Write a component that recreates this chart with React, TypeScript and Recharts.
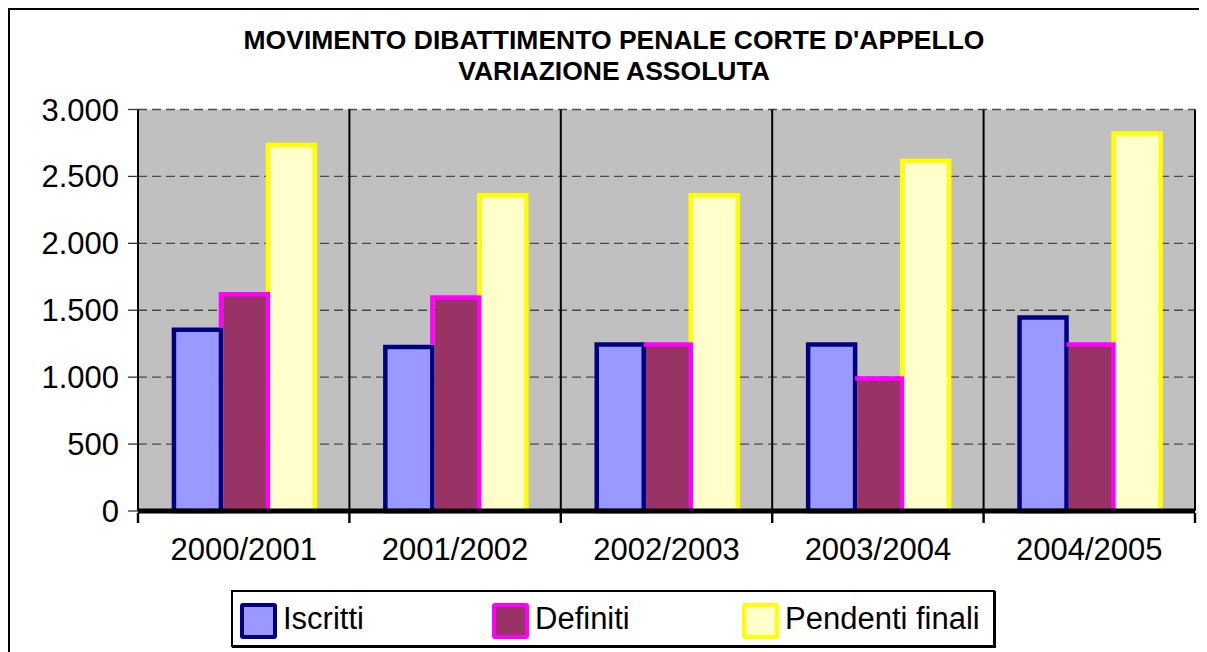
import React from 'react';
import { BarChart, Bar, XAxis, YAxis, CartesianGrid, Legend } from 'recharts';

const categories = ['2000/2001', '2001/2002', '2002/2003', '2003/2004', '2004/2005'];
const iscritti = [1355, 1225, 1245, 1245, 1445];
const definiti = [1620, 1595, 1245, 990, 1245];
const pendenti = [2735, 2360, 2360, 2615, 2820];
const yTicks = [0, 500, 1000, 1500, 2000, 2500, 3000];
const titleLines = ["MOVIMENTO DIBATTIMENTO PENALE CORTE D'APPELLO", 'VARIAZIONE ASSOLUTA'];

const series = [
  { key: 'iscritti', name: 'Iscritti', fill: '#9999FF', stroke: '#000080', prev: null as string | null },
  { key: 'definiti', name: 'Definiti', fill: '#993366', stroke: '#FF00FF', prev: 'iscritti' },
  { key: 'pendenti', name: 'Pendenti finali', fill: '#FFFFCC', stroke: '#FFFF00', prev: 'definiti' },
];

const data = categories.map((c, i) => ({
  cat: c,
  iscritti: iscritti[i],
  definiti: definiti[i],
  pendenti: pendenti[i],
}));

const FONT = '"Liberation Sans", Arial, sans-serif';
const SW = 4.5;

const fmt = (n: number) => String(n).replace(/\B(?=(\d{3})+(?!\d))/g, '.');

function makeShape(key: string, prev: string | null, fill: string, stroke: string) {
  return (props: any) => {
    const { x, y, width, height, payload } = props;
    if (!height || height <= 0) return <g />;
    const bottom = y + height;
    const k = height / payload[key];
    let leftStart = bottom;
    if (prev) {
      const prevTop = bottom - payload[prev] * k;
      leftStart = prevTop - SW / 2;
    }
    const fx = prev ? x + SW / 2 : x;
    const fw = prev ? width - SW / 2 : width;
    let d: string;
    if (!prev) {
      d = `M${x},${y} L${x + width},${y} L${x + width},${bottom} L${x},${bottom} Z`;
    } else if (leftStart > y) {
      d = `M${x},${leftStart} L${x},${y} L${x + width},${y} L${x + width},${bottom} L${x + SW / 2},${bottom}`;
    } else {
      d = `M${x},${y} L${x + width},${y} L${x + width},${bottom} L${x + SW / 2},${bottom}`;
    }
    return (
      <g>
        <rect x={fx} y={y} width={fw} height={height} fill={fill} />
        <path d={d} fill="none" stroke={stroke} strokeWidth={SW} strokeLinejoin="miter" />
      </g>
    );
  };
}

function CategoryTick(props: any) {
  const { x, y, payload, index, visibleTicksCount } = props;
  const half = payload && payload.offset ? payload.offset : 0;
  const last = index === (visibleTicksCount ?? categories.length) - 1;
  return (
    <g>
      <line x1={x - half} x2={x - half} y1={y - 10} y2={y} stroke="#000" strokeWidth={2.4} />
      {last && <line x1={x + half} x2={x + half} y1={y - 10} y2={y} stroke="#000" strokeWidth={2.4} />}
      <text
        x={x}
        y={y + 15}
        dy="0.71em"
        textAnchor="middle"
        fill="#000"
        fontSize={31}
        fontFamily={FONT}
      >
        {payload.value}
      </text>
    </g>
  );
}

function ValueTick(props: any) {
  const { x, y, payload } = props;
  return (
    <text x={x} y={y} dy="0.355em" textAnchor="end" fill="#000" fontSize={31} fontFamily={FONT}>
      {fmt(payload.value)}
    </text>
  );
}

const swatchLeft = [9, 261, 511];

function LegendContent() {
  return (
    <div
      style={{
        position: 'relative',
        width: 764,
        height: 57,
        boxSizing: 'border-box',
        border: '2px solid #000',
        boxShadow: '1px 1px 0 #000',
        background: '#fff',
        fontFamily: FONT,
      }}
    >
      {series.map((s, i) => (
        <React.Fragment key={s.key}>
          <div
            style={{
              position: 'absolute',
              left: swatchLeft[i] - 2,
              top: 11,
              width: 37,
              height: 36,
              boxSizing: 'border-box',
              border: `4.5px solid ${s.stroke}`,
              borderRadius: 3,
              background: s.fill,
            }}
          />
          <div
            style={{
              position: 'absolute',
              left: swatchLeft[i] - 2 + 43,
              top: 8,
              fontSize: 31,
              lineHeight: '38px',
              color: '#000',
              whiteSpace: 'nowrap',
            }}
          >
            {s.name}
          </div>
        </React.Fragment>
      ))}
    </div>
  );
}

const dividerGenerator = (props: any) => {
  const { offset } = props;
  const out: number[] = [];
  for (let i = 1; i <= categories.length; i++) {
    out.push(offset.left + (offset.width * i) / categories.length);
  }
  return out;
};

export default function App() {
  return (
    <div style={{ position: 'relative', width: 1199, height: 644, fontFamily: FONT, background: '#fff' }}>
      <div
        style={{
          position: 'absolute',
          left: 0,
          top: 0,
          width: 1199,
          height: 644,
          borderTop: '2px solid #000',
          borderLeft: '2px solid #000',
          boxSizing: 'border-box',
        }}
      />
      <div
        style={{
          position: 'absolute',
          left: 0,
          top: 17,
          width: 1212,
          textAlign: 'center',
          fontWeight: 'bold',
          fontSize: 26.5,
          lineHeight: '30.5px',
          color: '#000',
          zIndex: 2,
        }}
      >
        {titleLines.map((t) => (
          <div key={t}>{t}</div>
        ))}
      </div>
      <div style={{ position: 'absolute', left: 0, top: 0 }}>
        <BarChart
          width={1199}
          height={644}
          data={data}
          margin={{ top: 101.5, right: 12, left: 50, bottom: 54 }}
          barCategoryGap="17%"
          barGap={0}
        >
          <CartesianGrid
            horizontal
            vertical={false}
            fill="#C0C0C0"
            stroke="#4a4a4a"
            strokeDasharray="9 5"
            strokeWidth={1.3}
          />
          <CartesianGrid
            horizontal={false}
            vertical
            verticalCoordinatesGenerator={dividerGenerator}
            stroke="#000"
            strokeWidth={2}
          />
          <XAxis
            dataKey="cat"
            height={30}
            axisLine={{ stroke: '#000', strokeWidth: 5 }}
            tickLine={false}
            tickSize={10}
            interval={0}
            tick={<CategoryTick />}
          />
          <YAxis
            width={80}
            domain={[0, 3000]}
            ticks={yTicks}
            tickSize={10}
            tickMargin={9}
            axisLine={{ stroke: '#000', strokeWidth: 2 }}
            tickLine={{ stroke: '#333', strokeWidth: 1.3 }}
            tick={<ValueTick />}
          />
          {series.map((s) => (
            <Bar
              key={s.key}
              dataKey={s.key}
              name={s.name}
              fill={s.fill}
              stroke={s.stroke}
              isAnimationActive={false}
              shape={makeShape(s.key, s.prev, s.fill, s.stroke)}
            />
          ))}
          <Legend
            content={() => <LegendContent />}
            wrapperStyle={{ left: 223, top: 582, width: 764, height: 57, bottom: 'auto' }}
          />
        </BarChart>
      </div>
    </div>
  );
}
